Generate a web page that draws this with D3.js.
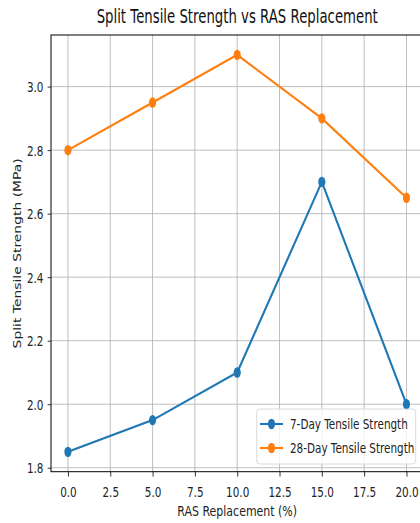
<!DOCTYPE html>
<html><head><meta charset="utf-8">
<script src="https://cdn.jsdelivr.net/npm/d3@7"></script>
<style>html,body{margin:0;padding:0;background:#fff;}svg{display:block;}</style>
</head><body>
<script>
const xValues = [0, 5, 10, 15, 20];
const day7 = [1.85, 1.95, 2.10, 2.70, 2.00];
const day28 = [2.80, 2.95, 3.10, 2.90, 2.65];
const seriesNames = ["7-Day Tensile Strength", "28-Day Tensile Strength"];
const seriesColors = ["#1f77b4", "#ff7f0e"];
const xTicks = [0, 2.5, 5, 7.5, 10, 12.5, 15, 17.5, 20];
const yTicks = [1.8, 2.0, 2.2, 2.4, 2.6, 2.8, 3.0];
const titleText = "Split Tensile Strength vs RAS Replacement";
const xLabel = "RAS Replacement (%)";
const yLabel = "Split Tensile Strength (MPa)";

(function () {
const W = 420, H = 523, SX = 0.75;
const mLeft = 51, mRight = 423.4, mTop = 35, mBottom = 471.7;
const font = "DejaVu Sans, sans-serif";

const svg = d3.select("body").append("svg").attr("width", W).attr("height", H);
const x = d3.scaleLinear().domain([-1, 21]).range([mLeft, mRight]);
const y = d3.scaleLinear().domain([1.7875, 3.1625]).range([mBottom, mTop]);

// grid
const grid = svg.append("g");
grid.selectAll("line.gx").data(xTicks).join("line")
  .attr("x1", d => x(d)).attr("x2", d => x(d)).attr("y1", mTop).attr("y2", mBottom)
  .attr("stroke", "#b0b0b0").attr("stroke-width", 0.9).attr("opacity", 0.9);
grid.selectAll("line.gy").data(yTicks).join("line")
  .attr("y1", d => y(d)).attr("y2", d => y(d)).attr("x1", mLeft).attr("x2", mRight)
  .attr("stroke", "#b0b0b0").attr("stroke-width", 0.9).attr("opacity", 0.9);

// axes
const xAxis = svg.append("g").attr("transform", `translate(0,${mBottom})`)
  .call(d3.axisBottom(x).tickValues(xTicks).tickFormat(d3.format(".1f")).tickSize(4.9).tickPadding(3.5));
const yAxis = svg.append("g").attr("transform", `translate(${mLeft},0)`)
  .call(d3.axisLeft(y).tickValues(yTicks).tickFormat(d3.format(".1f")).tickSize(3.4).tickPadding(3.4));
[xAxis, yAxis].forEach(a => {
  a.select(".domain").remove();
  a.selectAll("line").attr("stroke", "#000").attr("stroke-width", 0.8);
  a.selectAll("text").attr("font-family", font).attr("font-size", 13.9).attr("fill", "#222");
});
xAxis.selectAll("text").attr("y", 0).attr("dy", 0)
  .attr("transform", `translate(0,25.5) scale(${SX},1)`);
yAxis.selectAll("text").attr("x", 0).attr("dy", 0)
  .attr("transform", `translate(-7.5,5) scale(${SX},1)`);

// spines
svg.append("rect").attr("x", mLeft).attr("y", mTop).attr("width", mRight - mLeft).attr("height", mBottom - mTop)
  .attr("fill", "none").attr("stroke", "#000").attr("stroke-width", 1);

// series
const seriesData = [day7, day28];
const line = d3.line().x((d, i) => x(xValues[i])).y(d => y(d));
seriesData.forEach((vals, si) => {
  svg.append("path").datum(vals).attr("d", line)
    .attr("fill", "none").attr("stroke", seriesColors[si]).attr("stroke-width", 2.1);
  svg.append("g").selectAll("ellipse").data(vals).join("ellipse")
    .attr("cx", (d, i) => x(xValues[i])).attr("cy", d => y(d))
    .attr("rx", 3.6).attr("ry", 5.2).attr("fill", seriesColors[si]);
});

// title and labels
svg.append("text").attr("transform", `translate(${(mLeft + mRight) / 2},23) scale(0.7,1)`)
  .attr("text-anchor", "middle").attr("font-family", font).attr("font-size", 19).attr("fill", "#111")
  .text(titleText);
svg.append("text").attr("transform", `translate(${(mLeft + mRight) / 2},516) scale(0.79,1)`)
  .attr("text-anchor", "middle").attr("font-family", font).attr("font-size", 13.9).attr("fill", "#222")
  .text(xLabel);
svg.append("text").attr("transform", `translate(20.5,${(mTop + mBottom) / 2}) scale(0.7,1) rotate(-90)`)
  .attr("text-anchor", "middle").attr("font-family", font).attr("font-size", 13.9).attr("fill", "#222")
  .text(yLabel);

// legend
const lg = svg.append("g");
lg.append("rect").attr("x", 256.7).attr("y", 409).attr("width", 159).attr("height", 55)
  .attr("rx", 3).attr("fill", "#fff").attr("fill-opacity", 0.8).attr("stroke", "#d0d0d0").attr("stroke-width", 0.8);
seriesNames.forEach((name, i) => {
  const cy = 424 + i * 24;
  lg.append("line").attr("x1", 260).attr("x2", 283).attr("y1", cy).attr("y2", cy)
    .attr("stroke", seriesColors[i]).attr("stroke-width", 2.1);
  lg.append("ellipse").attr("cx", 271.5).attr("cy", cy).attr("rx", 3.6).attr("ry", 5.2).attr("fill", seriesColors[i]);
  lg.append("text").attr("transform", `translate(290,${cy + 5}) scale(${SX},1)`)
    .attr("font-family", font).attr("font-size", 13.9).attr("fill", "#222").text(name);
});
})();
</script>
</body></html>
